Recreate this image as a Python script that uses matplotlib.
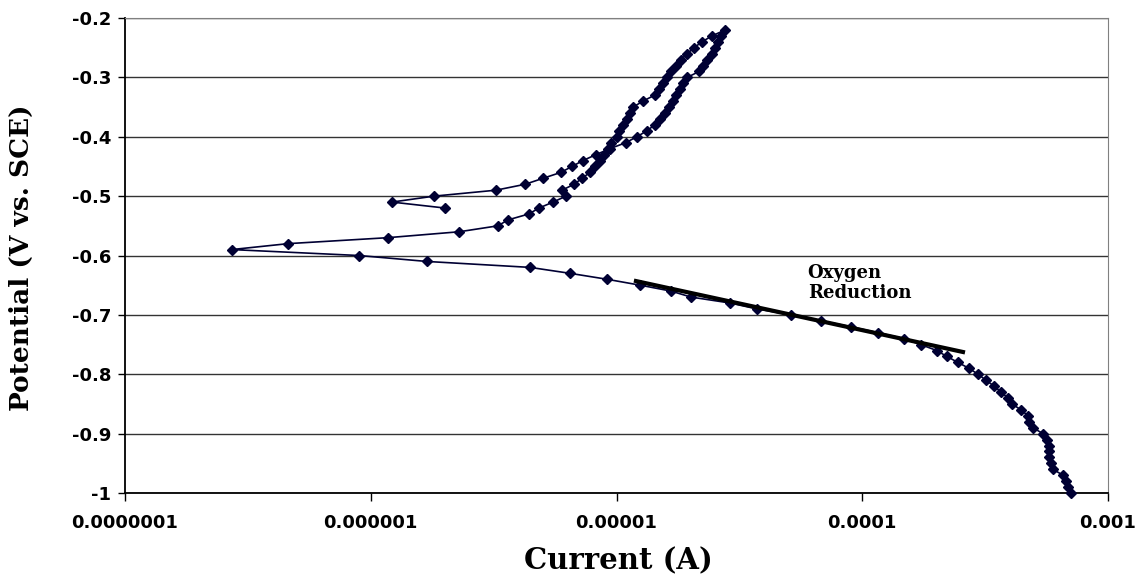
import matplotlib
matplotlib.use("Agg")
import matplotlib.pyplot as plt

# Rama catodica (-1.00 a -0.60 V)
cat_E = [-1.00, -0.99, -0.98, -0.97, -0.96, -0.95, -0.94, -0.93, -0.92, -0.91,
         -0.90, -0.89, -0.88, -0.87, -0.86, -0.85, -0.84, -0.83, -0.82, -0.81,
         -0.80, -0.79, -0.78, -0.77, -0.76, -0.75, -0.74, -0.73, -0.72, -0.71,
         -0.70, -0.69, -0.68, -0.67, -0.66, -0.65, -0.64, -0.63, -0.62, -0.61,
         -0.60]
cat_I = [7.06e-4, 6.87e-4, 6.75e-4, 6.56e-4, 5.97e-4, 5.86e-4, 5.75e-4, 5.75e-4, 5.75e-4, 5.65e-4,
         5.44e-4, 4.95e-4, 4.77e-4, 4.73e-4, 4.43e-4, 4.07e-4, 3.92e-4, 3.67e-4, 3.44e-4, 3.19e-4,
         2.96e-4, 2.72e-4, 2.45e-4, 2.21e-4, 2.01e-4, 1.73e-4, 1.48e-4, 1.16e-4, 9.0e-5, 6.79e-5,
         5.13e-5, 3.73e-5, 2.90e-5, 2.01e-5, 1.67e-5, 1.25e-5, 9.15e-6, 6.47e-6, 4.45e-6, 1.69e-6,
         8.96e-7]

# Barrido anodico (-0.59 a -0.22 V)
an_E = [-0.59, -0.58, -0.57, -0.56, -0.55, -0.54, -0.53, -0.52, -0.51, -0.50,
        -0.49, -0.48, -0.47, -0.46, -0.45, -0.44, -0.43, -0.42, -0.41, -0.40,
        -0.39, -0.38, -0.37, -0.36, -0.35, -0.34, -0.33, -0.32, -0.31, -0.30,
        -0.29, -0.28, -0.27, -0.26, -0.25, -0.24, -0.23, -0.22]
an_I = [2.72e-7, 4.61e-7, 1.17e-6, 2.29e-6, 3.29e-6, 3.62e-6, 4.40e-6, 4.84e-6, 5.52e-6, 6.23e-6,
        6.0e-6, 6.72e-6, 7.24e-6, 7.80e-6, 8.18e-6, 8.57e-6, 8.90e-6, 9.23e-6, 9.50e-6, 1.005e-5,
        1.02e-5, 1.06e-5, 1.10e-5, 1.135e-5, 1.17e-5, 1.28e-5, 1.43e-5, 1.49e-5, 1.55e-5, 1.60e-5,
        1.67e-5, 1.75e-5, 1.83e-5, 1.94e-5, 2.07e-5, 2.23e-5, 2.45e-5, 2.77e-5]

# Barrido inverso (-0.23 a -0.52 V)
rev_E = [-0.23, -0.24, -0.25, -0.26, -0.27, -0.28, -0.29, -0.30, -0.31, -0.32,
         -0.33, -0.34, -0.35, -0.36, -0.37, -0.38, -0.39, -0.40, -0.41, -0.42,
         -0.43, -0.44, -0.45, -0.46, -0.47, -0.48, -0.49, -0.50, -0.51, -0.52]
rev_I = [2.66e-5, 2.59e-5, 2.52e-5, 2.45e-5, 2.33e-5, 2.25e-5, 2.17e-5, 1.94e-5, 1.87e-5, 1.81e-5,
         1.75e-5, 1.70e-5, 1.64e-5, 1.57e-5, 1.50e-5, 1.43e-5, 1.33e-5, 1.21e-5, 1.09e-5, 9.41e-6,
         8.26e-6, 7.31e-6, 6.59e-6, 5.94e-6, 5.02e-6, 4.25e-6, 3.23e-6, 1.81e-6, 1.22e-6, 2.0e-6]

# Recta de Tafel
tafel_I = [1.2e-5, 2.57e-4]
tafel_E = [-0.643, -0.7625]

x_ticks = [1e-7, 1e-6, 1e-5, 1e-4, 1e-3]
x_labels = ["0.0000001", "0.000001", "0.00001", "0.0001", "0.001"]
y_ticks = [-1.0, -0.9, -0.8, -0.7, -0.6, -0.5, -0.4, -0.3, -0.2]
y_labels = ["-1", "-0.9", "-0.8", "-0.7", "-0.6", "-0.5", "-0.4", "-0.3", "-0.2"]

E = cat_E + an_E + rev_E
I = cat_I + an_I + rev_I

fig = plt.figure(figsize=(11.44, 5.79), dpi=100)
ax = fig.add_axes([0.1093, 0.1485, 0.9685 - 0.1093, 0.9689 - 0.1485])

ax.plot(I, E, color="#000033", lw=1.2, marker="D", markersize=5.5,
        markerfacecolor="#000033", markeredgecolor="#000033", zorder=3,
        clip_on=False)
ax.plot(tafel_I, tafel_E, color="black", lw=3, zorder=4)

ax.text(6.0e-5, -0.614, "Oxygen\nReduction", ha="left", va="top",
        fontsize=13, fontweight="bold", family="DejaVu Serif", linespacing=1.15)

ax.set_xscale("log")
ax.set_xlim(1e-7, 1e-3)
ax.set_ylim(-1.0, -0.2)
ax.set_xticks(x_ticks)
ax.set_xticklabels(x_labels)
ax.xaxis.set_minor_locator(matplotlib.ticker.NullLocator())
ax.set_yticks(y_ticks)
ax.set_yticklabels(y_labels)

for lab in ax.get_xticklabels() + ax.get_yticklabels():
    lab.set_fontweight("bold")
    lab.set_fontsize(13)
    lab.set_family("DejaVu Sans")

ax.tick_params(axis="x", direction="out", length=6, width=1, pad=9)
ax.tick_params(axis="y", direction="out", length=5, width=1, pad=5)

ax.yaxis.grid(True, color="#333333", lw=1)
ax.set_axisbelow(True)

ax.spines["left"].set_color("black")
ax.spines["bottom"].set_color("black")
ax.spines["left"].set_linewidth(1.3)
ax.spines["bottom"].set_linewidth(1.3)
ax.spines["top"].set_color("#808080")
ax.spines["right"].set_color("#808080")

ax.set_xlabel("Current (A)", fontsize=21, fontweight="bold", family="DejaVu Serif")
ax.set_ylabel("Potential (V vs. SCE)", fontsize=19, fontweight="bold", family="DejaVu Serif")
ax.xaxis.set_label_coords(0.5015, -0.112)
ax.yaxis.set_label_coords(-0.093, 0.495)

fig.savefig("out.png", dpi=100)
